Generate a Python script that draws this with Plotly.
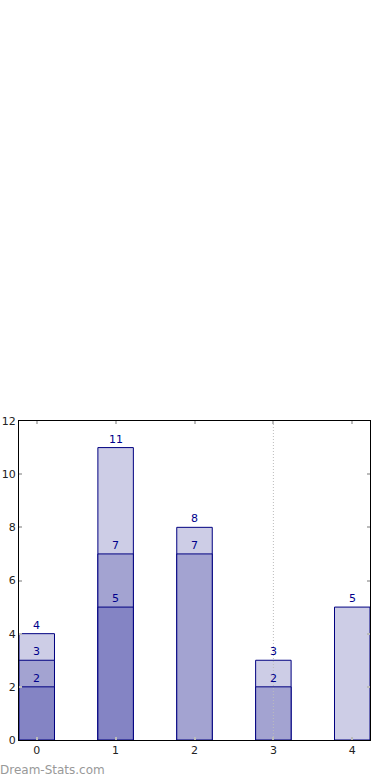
import plotly.graph_objects as go

categories = [0, 1, 2, 3, 4]
series_light = [4, 11, 8, 3, 5]
series_mid = [3, 7, 7, 2, 0]
series_dark = [2, 5, 0, 0, 0]
y_ticks = [0, 2, 4, 6, 8, 10, 12]

colors = ["#cdcde6", "#a3a3d1", "#8484c4"]
fig = go.Figure()
for vals, col in zip([series_light, series_mid, series_dark], colors):
    xs = [c for c, v in zip(categories, vals) if v > 0]
    ys = [v for v in vals if v > 0]
    fig.add_trace(go.Bar(x=xs, y=ys, width=0.45, marker=dict(color=col, line=dict(color="#000080", width=1)),
                         showlegend=False, hoverinfo="skip"))
    for x, y in zip(xs, ys):
        fig.add_annotation(x=x, y=y, text=str(y), showarrow=False, yanchor="bottom", yshift=0,
                           font=dict(family="DejaVu Sans", size=11, color="#00008b"))

fig.add_shape(type="line", x0=3, x1=3, y0=0, y1=12, xref="x", yref="y", layer="above",
              line=dict(color="#bbbbbb", width=1, dash="1px,2px"))

fig.add_annotation(x=0, y=0, xref="paper", yref="paper", xanchor="left", yanchor="top",
                   xshift=-21, yshift=-21, text="Dream-Stats.com", showarrow=False,
                   font=dict(family="DejaVu Sans", size=12, color="#999999"))

axis_common = dict(showline=True, linecolor="black", linewidth=1, mirror="allticks",
                   ticks="inside", ticklen=3, tickcolor="#bbbbbb", tickwidth=2,
                   showgrid=False, zeroline=False, automargin=False,
                   tickfont=dict(family="DejaVu Sans", size=11, color="#222222"))
fig.update_layout(
    barmode="overlay",
    width=390, height=780,
    margin=dict(l=19, r=20, t=421, b=40),
    plot_bgcolor="white", paper_bgcolor="white",
    xaxis=dict(range=[-0.225, 4.225], tickvals=categories, ticktext=[str(c) for c in categories], **axis_common),
    yaxis=dict(range=[0, 12], tickvals=y_ticks, ticktext=[str(t) for t in y_ticks], **axis_common),
)
fig.write_html("out.html", config={"displayModeBar": False},
               post_script="document.body.style.margin='0';")
